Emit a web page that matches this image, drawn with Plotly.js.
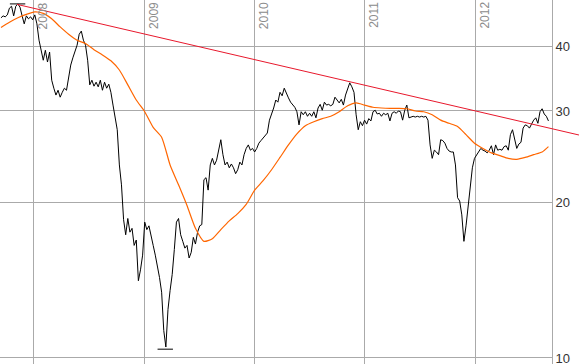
<!DOCTYPE html>
<html><head><meta charset="utf-8">
<script src="https://cdn.plot.ly/plotly-3.0.1.min.js"></script>
<style>html,body{margin:0;padding:0;background:#fff}#chart{width:579px;height:364px}</style>
</head><body><div id="chart"></div>
<script>
// Weekly closing prices, starting 2007-09-14, one value every 7 days
const startDate = '2007-09-14';
const stepDays = 7;
const prices = [
45.4,45.8,45.6,46.0,47.4,47.8,45.8,47.8,48.3,47.6,
45.8,44.2,45.8,45.2,45.6,45.0,46.0,44.2,41.1,39.3,
37.6,39.3,37.3,39.0,34.4,33.2,32.2,32.9,31.9,32.6,
33.2,32.9,35.2,36.8,38.0,39.3,40.2,42.2,42.8,41.1,
40.2,37.6,33.7,34.4,33.5,34.1,33.4,34.4,32.9,34.1,
33.2,33.8,32.6,30.8,29.1,27.6,23.6,21.6,18.5,17.3,
18.6,17.5,17.8,16.5,16.9,14.1,14.8,15.8,18.3,17.7,
18.0,17.1,16.5,15.8,15.1,14.3,13.4,11.3,10.5,12.4,
13.5,14.5,16.2,18.3,18.6,17.3,16.8,16.3,16.5,15.6,
16.0,17.1,16.6,17.5,18.0,18.1,22.1,22.3,21.1,23.6,
24.3,23.6,24.1,25.2,26.4,24.7,23.6,23.9,23.3,23.7,
23.3,22.7,23.1,23.9,23.6,24.7,25.4,25.8,25.2,25.4,
25.0,25.4,26.0,26.3,26.6,26.8,27.2,28.8,29.5,30.4,
31.5,31.2,32.6,32.1,33.2,32.6,31.8,31.2,30.8,30.5,
29.9,28.2,29.9,29.5,29.9,29.3,29.7,29.3,29.9,29.1,
30.4,30.9,30.1,31.2,30.8,30.9,30.7,30.9,31.9,31.5,
31.1,31.6,30.8,32.2,33.1,34.0,33.4,32.6,29.5,27.6,
28.6,28.1,28.8,28.3,29.0,28.7,29.9,30.1,29.6,29.7,
29.3,29.7,29.5,29.7,28.7,29.7,29.9,29.7,30.0,29.9,
28.8,30.1,30.8,29.1,29.2,29.3,29.2,29.3,29.2,29.3,
29.2,29.3,28.8,25.8,24.3,25.2,25.0,24.7,26.4,26.3,
26.0,25.4,25.1,25.0,25.0,23.6,20.4,20.1,18.9,16.8,
18.0,19.7,21.3,23.3,24.3,24.7,25.0,25.4,25.2,25.1,
24.9,25.2,25.7,24.7,25.8,25.2,25.3,25.2,25.6,25.7,
25.2,27.0,27.6,26.4,25.4,25.9,26.1,27.8,28.2,28.1,
27.8,28.3,28.8,29.1,28.4,29.9,30.3,29.6,29.3,28.7
];
// Moving average, read every 4th week (last value on the final week)
const maValues = [
43.5,44.5,45.4,46.1,46.6,46.3,45.2,43.6,42.2,41.1,
40.5,39.4,38.5,37.5,36.0,33.7,31.5,29.9,27.9,26.7,
23.6,21.6,19.7,17.8,16.8,17.0,17.7,18.4,19.0,19.8,
21.1,22.0,23.1,24.4,25.8,27.1,28.1,28.6,29.0,29.3,
29.9,30.7,31.1,30.8,30.5,30.4,30.35,30.35,30.3,30.0,
29.9,29.5,28.8,28.4,28.0,27.0,26.0,25.4,24.9,24.6,
24.3,24.2,24.4,24.7,25.0,25.6
];
const trendDates = ['2007-11-06', '2012-12-10'];
const trendValues = [48.2, 26.96];
const extremeDates = ['2007-11-08', '2009-03-11'];
const extremeValues = [48.3, 10.4];
const yearTicks = ['2008-01-01','2009-01-01','2010-01-01','2011-01-01','2012-01-01'];
const yearLabels = ['2008','2009','2010','2011','2012'];
const yTicks = [10, 20, 30, 40];
const yLabels = ['10', '20', '30', '40'];

function addDays(s, n) {
  const d = new Date(s + 'T00:00:00Z');
  d.setUTCDate(d.getUTCDate() + n);
  return d.toISOString().slice(0, 10);
}
const dates = prices.map((_, i) => addDays(startDate, i * stepDays));
const maDates = maValues.map((_, j) => dates[Math.min(4 * j, dates.length - 1)]);

const yRange = [0.9884, 1.6915];
const font = 'Liberation Sans, Arial, sans-serif';

const traces = [
  {x: dates, y: prices, type: 'scatter', mode: 'lines', xaxis: 'x', yaxis: 'y',
   line: {color: '#000000', width: 1}, hoverinfo: 'skip'},
  {x: maDates, y: maValues, type: 'scatter', mode: 'lines', xaxis: 'x', yaxis: 'y',
   line: {color: '#ff6600', width: 1.2, shape: 'spline', smoothing: 0.6}, hoverinfo: 'skip'},
  {x: extremeDates, y: extremeValues, type: 'scatter', mode: 'markers', xaxis: 'x', yaxis: 'y',
   marker: {symbol: 'line-ew', size: 11, color: '#000', line: {width: 1, color: '#000'}}, hoverinfo: 'skip'},
  {x: trendDates, y: trendValues, type: 'scatter', mode: 'lines', xaxis: 'x2', yaxis: 'y2',
   line: {color: '#e8182c', width: 1}, hoverinfo: 'skip'}
];

const layout = {
  width: 579, height: 364,
  margin: {l: 0, r: 0, t: 0, b: 0},
  paper_bgcolor: '#ffffff', plot_bgcolor: 'rgba(0,0,0,0)',
  showlegend: false,
  xaxis: {type: 'date', domain: [0, 552 / 579], range: ['2007-09-10 18:00', '2012-09-11 17:00'],
    tickvals: yearTicks, showticklabels: false, ticks: '', showgrid: true,
    gridcolor: '#aaaaaa', gridwidth: 1, zeroline: false, showline: false, anchor: 'y'},
  yaxis: {type: 'log', range: yRange, side: 'right', anchor: 'x',
    tickvals: yTicks, ticktext: yLabels, ticks: '', showgrid: true,
    gridcolor: '#aaaaaa', gridwidth: 1, showline: true, linecolor: '#aaaaaa', linewidth: 1,
    zeroline: false, ticklabeloverflow: 'allow',
    tickfont: {family: font, size: 13, color: '#333333'}},
  xaxis2: {type: 'date', domain: [0, 1], range: ['2007-09-10 18:00', '2012-12-10 02:00'],
    anchor: 'y2', visible: false},
  yaxis2: {type: 'log', range: yRange, anchor: 'x2', visible: false},
  annotations: yearLabels.map((t, i) => ({
    text: t, x: yearTicks[i], xref: 'x', y: 1, yref: 'paper',
    xanchor: 'left', yanchor: 'top', textangle: -90, showarrow: false,
    font: {family: font, size: 12, color: '#8c8c8c'}
  }))
};

Plotly.newPlot('chart', traces, layout, {staticPlot: true, displayModeBar: false});
</script>
</body></html>
